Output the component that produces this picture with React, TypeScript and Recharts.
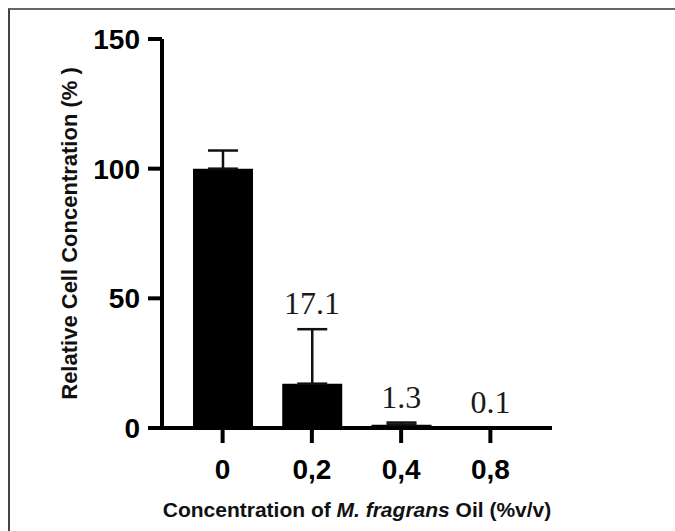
import { BarChart, Bar, XAxis, YAxis, ErrorBar, ReferenceDot } from "recharts";

const categories = ["0", "0,2", "0,4", "0,8"];
const values = [100, 17.1, 1.3, 0.1];
const errorsUp = [7, 21, 0.8, 0];
const valueLabels = ["", "17.1", "1.3", "0.1"];
const yTicks = [0, 50, 100, 150];

const data = categories.map((c, i) => ({
  conc: c,
  value: values[i],
  err: [0, errorsUp[i]],
  top: values[i] + errorsUp[i],
  label: valueLabels[i],
}));

const SANS = "'Liberation Sans', Arial, Helvetica, sans-serif";
const SERIF = "'Liberation Serif', 'Times New Roman', serif";

function XTitle(props: any) {
  const vb = props.viewBox || { x: 0, y: 0, width: 0, height: 0 };
  const cx = vb.x + vb.width / 2;
  const y = vb.y + vb.height - 14;
  return (
    <text x={cx} y={y} textAnchor="middle" fontSize={21} fontWeight="bold" fill="#111" fontFamily={SANS}>
      Concentration of <tspan fontStyle="italic">M. fragrans</tspan> Oil (%v/v)
    </text>
  );
}

function YTitle(props: any) {
  const vb = props.viewBox || { x: 0, y: 0, width: 0, height: 0 };
  const cx = vb.x + 69;
  const cy = vb.y + vb.height / 2;
  return (
    <text
      x={cx}
      y={cy}
      transform={`rotate(-90, ${cx}, ${cy})`}
      textAnchor="middle"
      dominantBaseline="central"
      fontSize={22}
      fontWeight="bold"
      fill="#111"
      fontFamily={SANS}
    >
      Relative Cell Concentration (% )
    </text>
  );
}

export default function App() {
  return (
    <div style={{ position: "relative", width: 675, height: 531, background: "#fff" }}>
      <style>{"body{margin:0;overflow:hidden}"}</style>
      <div
        style={{
          position: "absolute",
          left: 8,
          top: 8,
          width: 667,
          height: 523,
          borderLeft: "2px solid #444",
          borderTop: "2px solid #666",
          boxSizing: "border-box",
        }}
      />
      <div style={{ position: "absolute", left: 0, top: 0 }}>
        <BarChart
          width={675}
          height={531}
          data={data}
          margin={{ top: 39, right: 123, bottom: 0, left: 0 }}
          style={{ fontFamily: SANS }}
        >
          <YAxis
            width={162}
            domain={[0, 150]}
            ticks={yTicks}
            interval={0}
            tickSize={14}
            tickMargin={8}
            axisLine={{ stroke: "#000", strokeWidth: 4 }}
            tickLine={{ stroke: "#000", strokeWidth: 4 }}
            tick={{ fill: "#000", fontSize: 28, fontWeight: "bold", fontFamily: SANS }}
            label={<YTitle />}
          />
          <XAxis
            dataKey="conc"
            height={103}
            padding={{ left: 16, right: 17 }}
            tickSize={15}
            tickMargin={16}
            interval={0}
            axisLine={{ stroke: "#000", strokeWidth: 4 }}
            tickLine={{ stroke: "#000", strokeWidth: 4 }}
            tick={{ fill: "#000", fontSize: 28, fontWeight: "bold", fontFamily: SANS }}
            label={<XTitle />}
          />
          <Bar dataKey="value" fill="#000" barSize={60} isAnimationActive={false}>
            <ErrorBar dataKey="err" direction="y" width={15} stroke="#111" strokeWidth={2.5} isAnimationActive={false} />
          </Bar>
          {data
            .filter((d) => d.label !== "")
            .map((d) => (
              <ReferenceDot
                key={d.conc}
                x={d.conc}
                y={d.top}
                r={1}
                fill="none"
                stroke="none"
                label={{
                  value: d.label,
                  position: "top",
                  offset: 14,
                  fill: "#1a1a1a",
                  fontSize: 32,
                  fontFamily: SERIF,
                }}
              />
            ))}
        </BarChart>
      </div>
    </div>
  );
}
